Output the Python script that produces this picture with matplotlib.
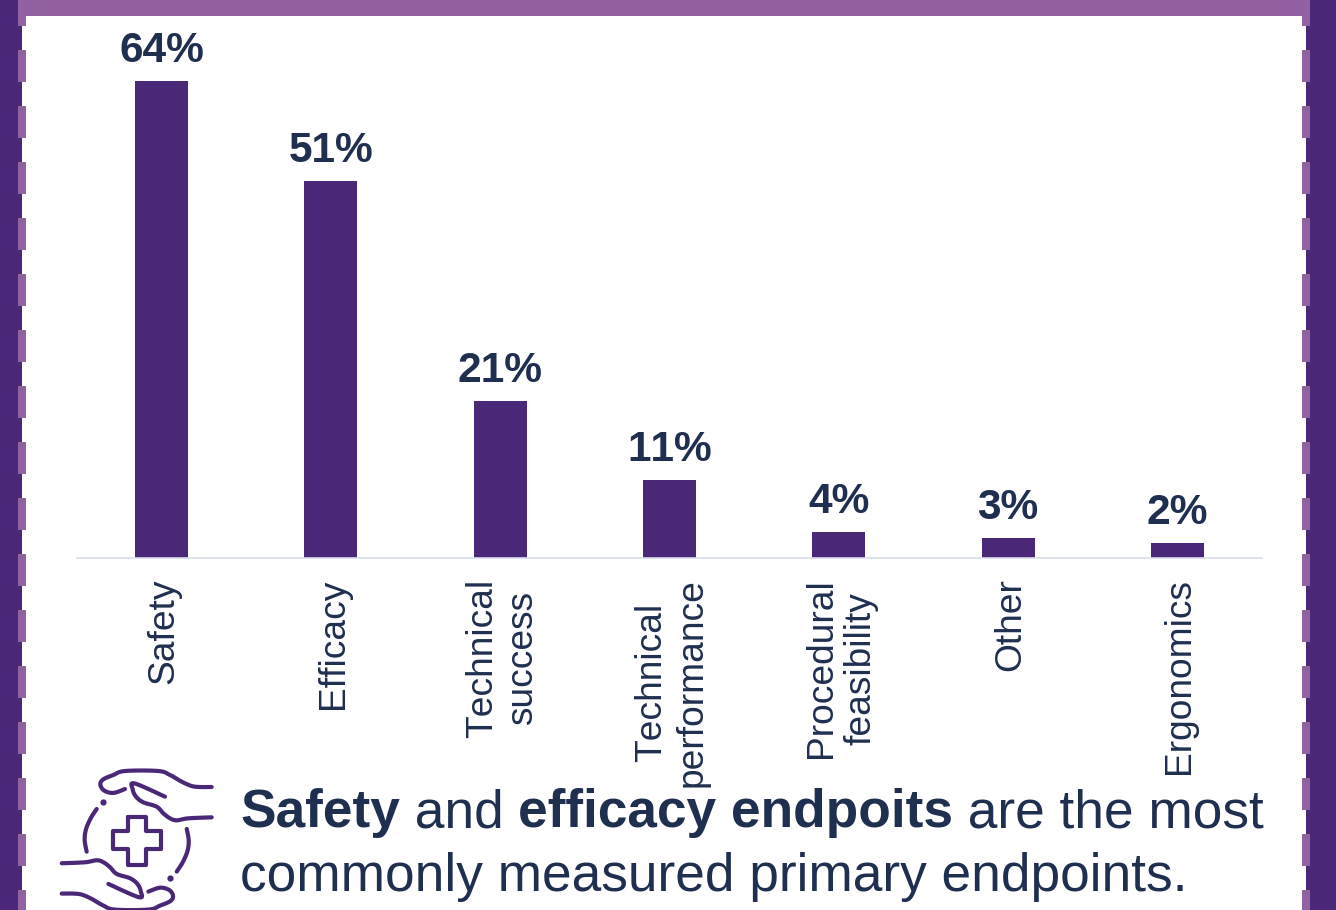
#!/usr/bin/env python3
# Primary endpoints bar chart with the framed slide look around it.

import matplotlib
matplotlib.use("Agg")
import matplotlib.pyplot as plt
import numpy as np
from matplotlib.patches import Rectangle
from matplotlib.transforms import ScaledTranslation

plt.rcParams["font.family"] = ["Liberation Sans", "DejaVu Sans"]
plt.rcParams["text.kerning_factor"] = 6

categories = ["Safety", "Efficacy", "Technical\nsuccess", "Technical\nperformance",
              "Procedural\nfeasibility", "Other", "Ergonomics"]
bar_values = [64, 50.6, 21, 10.4, 3.4, 2.6, 1.9]
bar_labels = ["64%", "51%", "21%", "11%", "4%", "3%", "2%"]

DARK = "#4B2777"
LIGHT = "#9161A1"
NAVY = "#1F2F50"
W, H = 1336, 910

fig = plt.figure(figsize=(W / 100, H / 100), dpi=100, facecolor="white")

# ---- Frame and icon, drawn in pixel coords ----
deco = fig.add_axes([0, 0, 1, 1])
deco.set_xlim(0, W)
deco.set_ylim(H, 0)
deco.axis("off")

deco.add_patch(Rectangle((0, 0), 22, H, color=DARK, lw=0))
deco.add_patch(Rectangle((1306, 0), 30, H, color=DARK, lw=0))
for x in (18, 1302):
    y = -6
    while y < H:
        deco.add_patch(Rectangle((x, y), 8, 32, color=LIGHT, lw=0))
        y += 56
deco.add_patch(Rectangle((18, 0), 1292, 16, color=LIGHT, lw=0))


def smooth(points, steps=8):
    # Catmull-Rom through the traced points, just so the icon isn't faceted
    pts = np.array([points[0]] + list(points) + [points[-1]], dtype=float)
    out = []
    for i in range(1, len(pts) - 2):
        p0, p1, p2, p3 = pts[i - 1], pts[i], pts[i + 1], pts[i + 2]
        for t in np.linspace(0, 1, steps, endpoint=False):
            out.append(0.5 * (2 * p1 + (p2 - p0) * t + (2 * p0 - 5 * p1 + 4 * p2 - p3) * t ** 2
                              + (3 * p1 - p0 - 3 * p2 + p3) * t ** 3))
    out.append(pts[-2])
    return out


def icon_line(points, flip=False):
    # points are in 3x zoom units of the icon crop
    xs = [p[0] / 3 for p in points]
    ys = [p[1] / 3 + 740 for p in points]
    if flip:
        xs = [2 * 136.7 - x for x in xs]
        ys = [2 * 840.3 - y for y in ys]
    deco.plot(xs, ys, color=DARK, lw=3, solid_capstyle="round", solid_joinstyle="round")


hand_outer = [(635, 141), (600, 141), (575, 138), (545, 125), (510, 105), (475, 93), (375, 93),
              (340, 105), (310, 118), (301, 132), (308, 148), (325, 157), (345, 158), (375, 147)]
hand_inner = [(495, 170), (403, 130), (398, 148), (408, 170), (430, 187), (470, 200), (490, 220),
              (510, 235), (530, 241), (565, 235), (635, 232)]
arc = [(290, 207), (272, 235), (258, 268), (254, 300), (260, 335)]
cross = [(385, 230), (437, 230), (437, 273), (483, 273), (483, 327), (437, 327), (437, 375),
         (385, 375), (385, 327), (338, 327), (338, 273), (385, 273), (385, 230)]

for line in (hand_outer, hand_inner, arc):
    icon_line(smooth(line))
    icon_line(smooth(line), flip=True)
icon_line(cross)
deco.plot([310 / 3, 510 / 3], [187 / 3 + 740, 415 / 3 + 740], "o", color=DARK, ms=4.5, mew=0)

# ---- Chart ----
ax = fig.add_axes([77 / W, 1 - 557.5 / H, 1185 / W, 557.5 / H])
ax.patch.set_alpha(0)
positions = list(range(len(categories)))
bars = ax.bar(positions, bar_values, width=0.313, color=DARK)
ax.set_xlim(-0.5, 6.5)
ax.set_ylim(0, 557.5 / 7.44)
ax.set_yticks([])
ax.set_xticks(positions)
ax.set_xticklabels(categories, rotation=90, ha="center", va="top", multialignment="center",
                   fontsize=26.7, color=NAVY, linespacing=1.18)
ax.tick_params(axis="x", length=0, pad=15)
# rotated text sits a little left of the tick otherwise
for tick_label in ax.get_xticklabels():
    tick_label.set_transform(tick_label.get_transform() + ScaledTranslation(2.5 / 100, 0, fig.dpi_scale_trans))
for side in ("top", "left", "right"):
    ax.spines[side].set_visible(False)
ax.spines["bottom"].set_color("#D9DEEF")
ax.spines["bottom"].set_linewidth(1.2)

for bar, label in zip(bars, bar_labels):
    ax.annotate(label, (bar.get_x() + bar.get_width() / 2, bar.get_height()),
                xytext=(0, 14), textcoords="offset points", ha="center", va="baseline",
                fontsize=30.6, fontweight="bold", color=NAVY, annotation_clip=False)

# ---- Takeaway text, bold and regular runs placed one after the other ----
fig.canvas.draw()
renderer = fig.canvas.get_renderer()
first_line = [("Safety", "bold"), (" and ", "normal"), ("efficacy endpoits", "bold"),
              (" are the most", "normal")]
BODY_SIZE = 38.35
x = 240
for run, weight in first_line:
    deco.text(x, 827, run, fontsize=BODY_SIZE, fontweight=weight, color=NAVY, va="baseline", ha="left")
    # trailing spaces are not measured, so measure with a dot and take the dot off
    w_dot = deco.text(0, 0, run + ".", fontsize=BODY_SIZE, fontweight=weight)
    w_only = deco.text(0, 0, ".", fontsize=BODY_SIZE, fontweight=weight)
    x += w_dot.get_window_extent(renderer).width - w_only.get_window_extent(renderer).width
    w_dot.remove()
    w_only.remove()
deco.text(240, 891, "commonly measured primary endpoints.", fontsize=BODY_SIZE, color=NAVY,
          va="baseline", ha="left")

fig.savefig("out.png", dpi=100)
